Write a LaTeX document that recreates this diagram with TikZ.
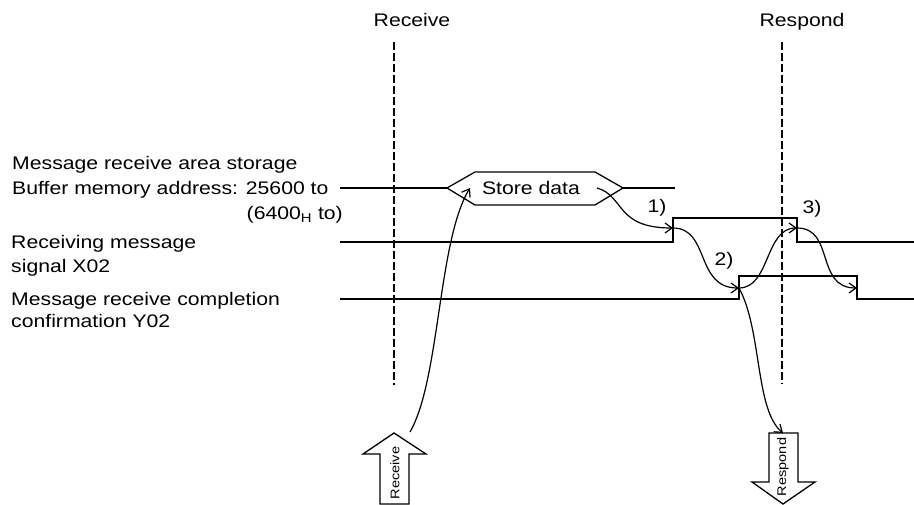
\documentclass[tikz,border=0pt]{standalone}
\usepackage{fontspec}
\setmainfont{Liberation Sans}[FakeStretch=1.165]
\usetikzlibrary{arrows.meta}
\begin{document}
\begin{tikzpicture}[x=1pt,y=-1pt,
  sig/.style={line width=1.8pt},
  hexa/.style={line width=1.3pt, line join=miter},
  flow/.style={line width=1.2pt,-{Straight Barb[length=7pt,width=10pt,line width=1.2pt]}},
  lbl/.style={font=\fontsize{18.2}{22}\selectfont, inner sep=0pt},
  blk/.style={line width=1.3pt, fill=white, line join=miter},
  vtxt/.style={font=\fontsize{12.5}{14}\selectfont, rotate=90, inner sep=0pt},
  dline/.style={line width=1.8pt, dash pattern=on 8pt off 3pt}]
\useasboundingbox (0,0) rectangle (914,505);

% headers and dashed timing lines
\node[lbl, anchor=base] (rcvh) at (412,27) {Receive};
\node[lbl, anchor=base] (rsph) at (802,27) {Respond};
\coordinate (rcvtop) at (394,42);
\coordinate (rcvbot) at (394,385);
\coordinate (rsptop0) at (782,42);
\coordinate (rspbot) at (782,384);
\draw[dline] (rcvtop) -- (rcvbot);
\draw[dline] (rsptop0) -- (rspbot);

% left labels
\node[lbl, anchor=base west] (l1) at (12,170) {Message receive area storage};
\node[lbl, anchor=base west] (l2) at (12,195) {Buffer memory address: 25600 to};
\node[lbl, anchor=base east] (l3) at (343,220) {(6400\textsubscript{H} to)};
\node[lbl, anchor=base west] (l4) at (11,249) {Receiving message};
\node[lbl, anchor=base west] (l5) at (11,273) {signal X02};
\node[lbl, anchor=base west] (l6) at (11,306) {Message receive completion};
\node[lbl, anchor=base west] (l7) at (11,328) {confirmation Y02};

% buffer memory line with hexagon
\draw[sig] (340,188) -- (447,188);
\draw[hexa] (447,188) -- (475,172) -- (595,172) -- (623,188) -- (595,205) -- (475,205) -- cycle;
\draw[sig] (623,188) -- (675,188);
\node[lbl, anchor=base] (sd) at (531,195) {Store data};

% X02 and Y02 signals
\draw[sig] (340,242) -- (673,242) -- (673,218) -- (797,218) -- (797,242) -- (914,242);
\draw[sig] (340,299) -- (739,299) -- (739,276) -- (857,276) -- (857,299) -- (914,299);

% key points
\coordinate (s1) at (597,188);
\coordinate (xrise) at (673,228);
\coordinate (yrise) at (739,288);
\coordinate (xfall) at (797,228);
\coordinate (yfall) at (857,288);
\coordinate (c6s) at (410,432);
\coordinate (hexin) at (470,188);
\coordinate (rsptop) at (783,433);

% step labels
\node[lbl, anchor=base] (n1) at (657,213) {1)};
\node[lbl, anchor=base] (n2) at (724,266) {2)};
\node[lbl, anchor=base] (n3) at (812,214) {3)};

% flow arrows
\draw[flow] (s1) .. controls (625,196) and (615,228) .. (xrise);
\draw[flow] (xrise) .. controls (710,228) and (695,288) .. (yrise);
\draw[flow] (yrise) .. controls (770,288) and (765,228) .. (xfall);
\draw[flow] (xfall) .. controls (835,228) and (815,288) .. (yfall);
\draw[flow] (yrise) .. controls (762,330) and (755,410) .. (rsptop);
\draw[flow] (c6s) .. controls (440,380) and (438,240) .. (hexin);

% block arrows
\draw[blk] (394,433) -- (426,454) -- (409,454) -- (409,504) -- (380,504) -- (380,454) -- (363,454) -- cycle;
\node[vtxt] (rcvtxt) at (395,473) {Receive};
\draw[blk] (769,433) -- (798,433) -- (798,482) -- (815,482) -- (783,504) -- (752,482) -- (769,482) -- cycle;
\node[vtxt] (rsptxt) at (783,467) {Respond};
\end{tikzpicture}
\end{document}
